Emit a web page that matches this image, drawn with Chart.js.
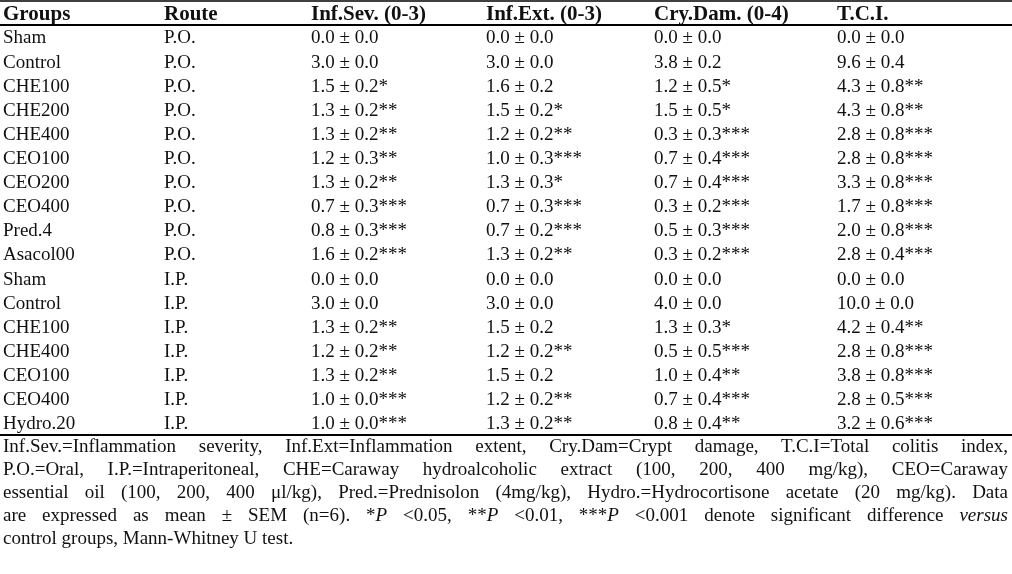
<!DOCTYPE html>
<html>
<head>
<meta charset="utf-8">
<script src="https://cdn.jsdelivr.net/npm/chart.js@4.4.1/dist/chart.umd.min.js"></script>
<style>
  body { margin: 0; background: #fff; width: 1012px; height: 574px; overflow: hidden; position: relative; }
  #myChart { position: absolute; left: 0; top: 0; }
  .notes { position: absolute; left: 3px; top: 434px; width: 1005px; font-family: 'Liberation Serif', 'Times New Roman', serif; font-size: 19px; line-height: 23px; color: #111; }
  .notes div { text-align: justify; text-align-last: justify; white-space: nowrap; }
  .notes div.last { text-align-last: left; }
</style>
</head>
<body>
<canvas id="myChart" width="1012" height="437"></canvas>
<div class="notes">
  <div>Inf.Sev.=Inflammation severity, Inf.Ext=Inflammation extent, Cry.Dam=Crypt damage, T.C.I=Total colitis index,</div>
  <div>P.O.=Oral, I.P.=Intraperitoneal, CHE=Caraway hydroalcoholic extract (100, 200, 400 mg/kg), CEO=Caraway</div>
  <div>essential oil (100, 200, 400 μl/kg), Pred.=Prednisolon (4mg/kg), Hydro.=Hydrocortisone acetate (20 mg/kg). Data</div>
  <div>are expressed as mean ± SEM (n=6). *<i>P</i> &lt;0.05, **<i>P</i> &lt;0.01, ***<i>P</i> &lt;0.001 denote significant difference <i>versus</i></div>
  <div class="last">control groups, Mann-Whitney U test.</div>
</div>
<script>
// Table data
const headers = ['Groups', 'Route', 'Inf.Sev. (0-3)', 'Inf.Ext. (0-3)', 'Cry.Dam. (0-4)', 'T.C.I.'];
const groups = ['Sham', 'Control', 'CHE100', 'CHE200', 'CHE400', 'CEO100', 'CEO200', 'CEO400', 'Pred.4', 'Asacol00',
                'Sham', 'Control', 'CHE100', 'CHE400', 'CEO100', 'CEO400', 'Hydro.20'];
const routes = ['P.O.', 'P.O.', 'P.O.', 'P.O.', 'P.O.', 'P.O.', 'P.O.', 'P.O.', 'P.O.', 'P.O.',
                'I.P.', 'I.P.', 'I.P.', 'I.P.', 'I.P.', 'I.P.', 'I.P.'];

const infSevMean = [0.0, 3.0, 1.5, 1.3, 1.3, 1.2, 1.3, 0.7, 0.8, 1.6, 0.0, 3.0, 1.3, 1.2, 1.3, 1.0, 1.0];
const infSevSem  = [0.0, 0.0, 0.2, 0.2, 0.2, 0.3, 0.2, 0.3, 0.3, 0.2, 0.0, 0.0, 0.2, 0.2, 0.2, 0.0, 0.0];
const infSevSig  = [0, 0, 1, 2, 2, 2, 2, 3, 3, 3, 0, 0, 2, 2, 2, 3, 3];

const infExtMean = [0.0, 3.0, 1.6, 1.5, 1.2, 1.0, 1.3, 0.7, 0.7, 1.3, 0.0, 3.0, 1.5, 1.2, 1.5, 1.2, 1.3];
const infExtSem  = [0.0, 0.0, 0.2, 0.2, 0.2, 0.3, 0.3, 0.3, 0.2, 0.2, 0.0, 0.0, 0.2, 0.2, 0.2, 0.2, 0.2];
const infExtSig  = [0, 0, 0, 1, 2, 3, 1, 3, 3, 2, 0, 0, 0, 2, 0, 2, 2];

const cryDamMean = [0.0, 3.8, 1.2, 1.5, 0.3, 0.7, 0.7, 0.3, 0.5, 0.3, 0.0, 4.0, 1.3, 0.5, 1.0, 0.7, 0.8];
const cryDamSem  = [0.0, 0.2, 0.5, 0.5, 0.3, 0.4, 0.4, 0.2, 0.3, 0.2, 0.0, 0.0, 0.3, 0.5, 0.4, 0.4, 0.4];
const cryDamSig  = [0, 0, 1, 1, 3, 3, 3, 3, 3, 3, 0, 0, 1, 3, 2, 3, 2];

const tciMean = [0.0, 9.6, 4.3, 4.3, 2.8, 2.8, 3.3, 1.7, 2.0, 2.8, 0.0, 10.0, 4.2, 2.8, 3.8, 2.8, 3.2];
const tciSem  = [0.0, 0.4, 0.8, 0.8, 0.8, 0.8, 0.8, 0.8, 0.8, 0.4, 0.0, 0.0, 0.4, 0.8, 0.8, 0.5, 0.6];
const tciSig  = [0, 0, 2, 2, 3, 3, 3, 3, 3, 3, 0, 0, 2, 3, 3, 3, 3];

// layout: left edge of each column on the x scale (table units = px)
const colLeft = [3, 164, 311, 486, 654, 837];

function cell(mean, sem, sig) {
    return mean.map((m, i) => `${m.toFixed(1)} ± ${sem[i].toFixed(1)}${'*'.repeat(sig[i])}`);
}

const columns = [
    groups,
    routes,
    cell(infSevMean, infSevSem, infSevSig),
    cell(infExtMean, infExtSem, infExtSig),
    cell(cryDamMean, cryDamSem, cryDamSig),
    cell(tciMean, tciSem, tciSig)
];

const FONT = "'Liberation Serif', 'Times New Roman', serif";

// draws cell texts at the point positions, header above and the rules
const tablePlugin = {
    id: 'tableText',
    afterDatasetsDraw(chart) {
        let ctx = chart.ctx;
        let x = chart.scales.x, y = chart.scales.y;
        ctx.save();
        ctx.fillStyle = '#111';
        ctx.textAlign = 'left';
        ctx.textBaseline = 'alphabetic';

        // header
        ctx.font = 'bold 21px ' + FONT;
        headers.forEach((h, c) => {
            ctx.fillText(h, x.getPixelForValue(colLeft[c]), y.getPixelForValue(-1) + 6.8);
        });

        // body
        ctx.font = '19px ' + FONT;
        chart.data.datasets.forEach((ds, d) => {
            let meta = chart.getDatasetMeta(d);
            meta.data.forEach((pt, i) => {
                ctx.fillText(ds.texts[i], pt.x, pt.y + 6.3);
            });
        });

        // rules
        ctx.strokeStyle = '#000';
        let rule = (v, w) => {
            let py = Math.round(y.getPixelForValue(v));
            ctx.lineWidth = w;
            ctx.beginPath();
            ctx.moveTo(0, py);
            ctx.lineTo(chart.width, py);
            ctx.stroke();
        };
        rule(-1.5, 1.5);
        rule(-0.5, 2);
        rule(groups.length - 0.5, 2);
        ctx.restore();
    }
};

let ctx = document.getElementById('myChart').getContext('2d');
let chart = new Chart(ctx, {
    type: 'scatter',
    data: {
        datasets: columns.map((texts, c) => ({
            label: headers[c],
            texts: texts,
            data: texts.map((t, i) => ({ x: colLeft[c], y: i })),
            pointRadius: 0,
            pointHoverRadius: 0
        }))
    },
    options: {
        responsive: false,
        animation: false,
        layout: { padding: { top: 1, bottom: 2, left: 0, right: 0 } },
        plugins: { legend: { display: false }, tooltip: { enabled: false } },
        scales: {
            x: { type: 'linear', display: false, min: 0, max: 1012 },
            y: { type: 'linear', display: false, reverse: true, min: -1.5, max: groups.length - 0.5 }
        }
    },
    plugins: [tablePlugin]
});
</script>
</body>
</html>
